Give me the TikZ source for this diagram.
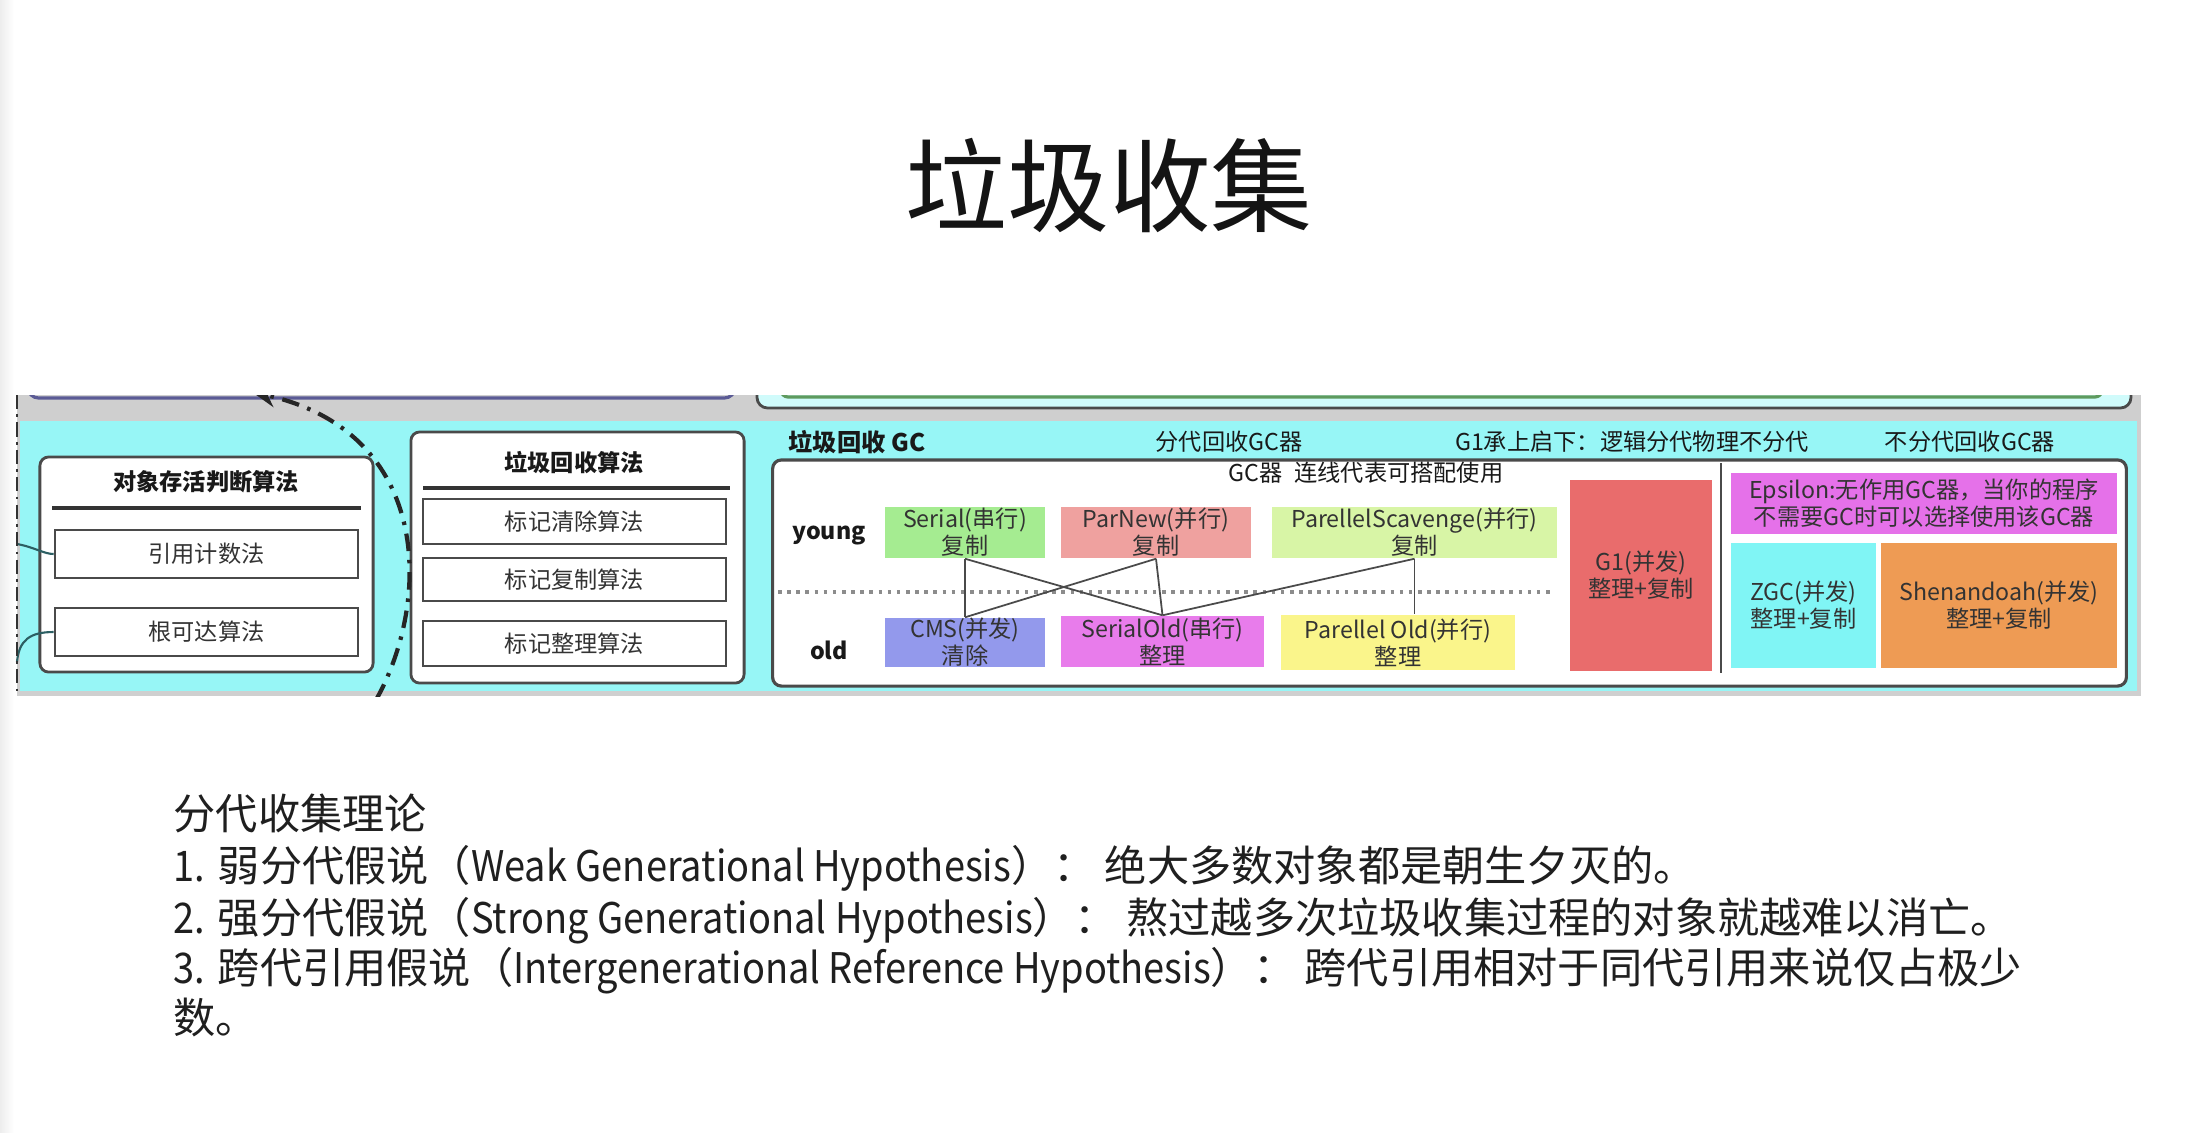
\documentclass[tikz,border=0pt]{standalone}
\usepackage{fontspec}
\setmainfont{Noto Sans CJK SC}
\newfontfamily\narrowlatin{Noto Sans CJK SC}[FakeStretch=0.9]
\usetikzlibrary{arrows.meta}

\definecolor{stripcyan}{HTML}{97F6F6}
\definecolor{stripgrey}{HTML}{CFCFCF}
\definecolor{edgegrey}{HTML}{4A4A4A}
\definecolor{inkgrey}{HTML}{333333}
\definecolor{serialgreen}{HTML}{A5EC91}
\definecolor{parnewred}{HTML}{EFA19F}
\definecolor{scavengelime}{HTML}{D8F5A6}
\definecolor{cmsblue}{HTML}{9399EC}
\definecolor{serialoldpink}{HTML}{E87CEB}
\definecolor{paroldyellow}{HTML}{FAF58B}
\definecolor{gonered}{HTML}{E96C6C}
\definecolor{epsilonpink}{HTML}{E571E9}
\definecolor{zgccyan}{HTML}{80F5F5}
\definecolor{shenorange}{HTML}{EE9B54}
\definecolor{linkteal}{HTML}{2C5F63}
\definecolor{topviolet}{HTML}{5B5B95}
\definecolor{topgreen}{HTML}{5E9A5E}

\newcommand{\smallfont}{\fontsize{6.6}{7.7}\selectfont}
\newcommand{\lat}[1]{{\narrowlatin #1}}

\tikzset{
  panel/.style={draw=edgegrey, line width=0.8pt, fill=white, rounded corners=2.5pt},
  itembox/.style={draw=edgegrey, line width=0.7pt, fill=white, font=\smallfont, text=inkgrey, inner sep=0pt},
  gcbox/.style={draw=none, font=\smallfont, text=inkgrey, align=center, inner sep=0pt},
  caption/.style={font=\smallfont, text=black!90, inner sep=0pt},
  boldcaption/.style={font=\smallfont\bfseries, text=black!90, inner sep=0pt},
  rule/.style={draw=inkgrey, line width=0.9pt},
  link/.style={draw=edgegrey, line width=0.5pt},
  dashdot/.style={line width=1.2pt, draw=black!85, dash pattern=on 5pt off 2.5pt on 1pt off 2.5pt},
  bodyline/.style={anchor=west, inner sep=0pt, font=\fontsize{12}{14.5}\selectfont,
    text height=10.5pt, text depth=1.5pt, text=black!88},
}

\begin{document}
\begin{tikzpicture}[x=0.01cm, y=-0.01cm]
\useasboundingbox (0,0) rectangle (2190,1132);
\fill[white] (0,0) rectangle (2190,1132);
\shade[left color=black!7, right color=white] (0,0) rectangle (14,1132);

% heading
\node[font=\fontsize{29}{34}\selectfont, text=black!92] (title) at (1109,185) {垃圾收集};

% screenshot strip
\fill[stripgrey] (17,395) rectangle (2141,696);
\fill[stripcyan] (20,421) rectangle (2137,691);

\begin{scope}
  \clip (17,395) rectangle (2141,696);
  % panels of the row above, cut by the strip edge
  \draw[topviolet, line width=0.9pt, rounded corners=3pt] (28,300) rectangle (735,398);
  \draw[edgegrey, fill=stripcyan!45, line width=0.8pt, rounded corners=3pt] (757,300) rectangle (2131,408);
  \draw[topgreen, line width=0.9pt, rounded corners=2pt] (781,290) rectangle (2102,397);
\end{scope}

% ---------- object liveness panel ----------
\node[panel, minimum width=3.33cm, minimum height=2.15cm] (live) at (206.5,564.5) {};
\node[boldcaption] (liveT) at (206,482) {对象存活判断算法};
\draw[rule] (52,508) -- (361,508);
\node[itembox, minimum width=3.03cm, minimum height=0.48cm] (refcount) at (206.5,554) {引用计数法};
\node[itembox, minimum width=3.03cm, minimum height=0.48cm] (reach) at (206.5,632) {根可达算法};

% links coming in from the left
\coordinate (inA) at (17,544);
\coordinate (inB) at (17,662);
\draw[linkteal, line width=0.6pt] (inA) .. controls (34,547) and (44,554) .. (refcount.west);
\draw[linkteal, line width=0.6pt] (reach.west) .. controls (30,632) and (19,640) .. (inB);

% ---------- collection algorithm panel ----------
\node[panel, minimum width=3.33cm, minimum height=2.51cm] (algo) at (577.5,557.5) {};
\node[boldcaption] (algoT) at (574,463) {垃圾回收算法};
\draw[rule] (423,488) -- (730,488);
\node[itembox, minimum width=3.03cm, minimum height=0.45cm] (sweep) at (574.5,521.5) {标记清除算法};
\node[itembox, minimum width=3.03cm, minimum height=0.43cm] (copy) at (574.5,579.5) {标记复制算法};
\node[itembox, minimum width=3.03cm, minimum height=0.45cm] (compact) at (574.5,643.5) {标记整理算法};

% dash-dot arc between the two panels
\coordinate (arcFoot) at (376,700);
\coordinate (arcTip) at (252,392);
\begin{scope}
  \clip (17,395) rectangle (2141,696);
  \draw[dashdot, -{Stealth[length=0.24cm, width=0.2cm]}] (arcFoot) .. controls (432,600) and (432,432) .. (arcTip);
\end{scope}

% left border of the strip
\draw[black!80, line width=0.5pt, dash pattern=on 4pt off 1.5pt on 0.8pt off 1.5pt] (17,395) -- (17,696);

% ---------- GC panel ----------
\node[boldcaption, anchor=west, font=\fontsize{6.9}{8}\selectfont\bfseries] (gcT) at (788,442) {垃圾回收 GC};
\node[caption] (genT) at (1229,442) {分代回收GC器};
\node[caption] (g1T) at (1632,442) {G1承上启下：逻辑分代物理不分代};
\node[caption] (nongenT) at (1970,442) {不分代回收GC器};

\node[panel, line width=0.9pt, minimum width=13.53cm, minimum height=2.26cm] (gc) at (1449.5,573) {};
\node[caption] (pairT) at (1366,473) {GC器\enspace 连线代表可搭配使用};

\node[boldcaption] (young) at (829,535) {young};
\node[boldcaption] (old) at (829,650) {old};

\draw[black!45, line width=0.9pt, dash pattern=on 1pt off 1.6pt] (778,592) -- (1553,592);

\node[gcbox, fill=serialgreen, minimum width=1.60cm, minimum height=0.51cm] (serial) at (965,532.5) {Serial(串行)\\复制};
\node[gcbox, fill=parnewred, minimum width=1.90cm, minimum height=0.51cm] (parnew) at (1156,532.5) {ParNew(并行)\\复制};
\node[gcbox, fill=scavengelime, minimum width=2.85cm, minimum height=0.51cm] (scav) at (1414.5,532.5) {ParellelScavenge(并行)\\复制};

\node[gcbox, fill=cmsblue, minimum width=1.60cm, minimum height=0.49cm] (cms) at (965,642.5) {CMS(并发)\\清除};
\node[gcbox, fill=serialoldpink, minimum width=2.03cm, minimum height=0.51cm] (serold) at (1162.5,641.5) {SerialOld(串行)\\整理};
\node[gcbox, fill=paroldyellow, minimum width=2.34cm, minimum height=0.55cm] (parold) at (1398,642.5) {Parellel Old(并行)\\整理};

% collectors that can work together
\draw[link] (serial.south) -- (cms.north);
\draw[link] (serial.south) -- (serold.north);
\draw[link] (parnew.south) -- (cms.north);
\draw[link] (parnew.south) -- (serold.north);
\draw[link] (scav.south) -- (serold.north);
\draw[link] (scav.south) -- (scav.south |- parold.north);

\node[gcbox, fill=gonered, minimum width=1.42cm, minimum height=1.91cm] (gone) at (1641,575.5) {G1(并发)\\整理+复制};

\coordinate (splitTop) at (1721,463);
\coordinate (splitBot) at (1721,673);
\draw[edgegrey, line width=0.7pt] (splitTop) -- (splitBot);

\node[gcbox, fill=epsilonpink, minimum width=3.86cm, minimum height=0.61cm] (eps) at (1924,503.5) {Epsilon:无作用GC器，当你的程序\\不需要GC时可以选择使用该GC器};
\node[gcbox, fill=zgccyan, minimum width=1.45cm, minimum height=1.25cm] (zgc) at (1803.5,605.5) {ZGC(并发)\\整理+复制};
\node[gcbox, fill=shenorange, minimum width=2.36cm, minimum height=1.25cm] (shen) at (1999,605.5) {Shenandoah(并发)\\整理+复制};

% ---------- text below ----------
\node[bodyline] (l0) at (173,814) {分代收集理论};
\node[bodyline] (l1) at (173,866) {\lat{1.} 弱分代假说（\lat{Weak Generational Hypothesis}）： 绝大多数对象都是朝生夕灭的。};
\node[bodyline] (l2) at (173,918) {\lat{2.} 强分代假说（\lat{Strong Generational Hypothesis}）： 熬过越多次垃圾收集过程的对象就越难以消亡。};
\node[bodyline] (l3) at (173,968) {\lat{3.} 跨代引用假说（\lat{Intergenerational Reference Hypothesis}）： 跨代引用相对于同代引用来说仅占极少};
\node[bodyline] (l4) at (173,1018) {数。};
\end{tikzpicture}
\end{document}
